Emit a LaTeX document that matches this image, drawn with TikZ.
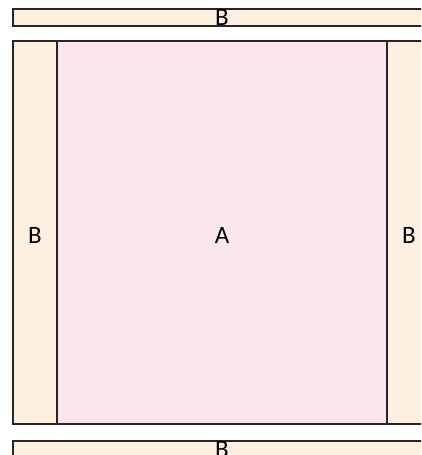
\documentclass[tikz,border=0pt]{standalone}
\usepackage{fontspec}
\setmainfont{Carlito}
\usepackage{xcolor}
\usetikzlibrary{positioning}
\definecolor{beige}{HTML}{FDF0E1}
\definecolor{rosa}{HTML}{FBE5EF}

\begin{document}
\begin{tikzpicture}[x=1pt, y=-1pt,
    region/.style={draw=black!85, line width=1.2pt, inner sep=0pt, outer sep=0pt, font=\fontsize{25}{30}\selectfont},
    bstrip/.style={region, fill=beige},
    astrip/.style={region, fill=rosa}]

    % --- Page ---
    \useasboundingbox (0,0) rectangle (421,455);
    \clip (0,0) rectangle (421,455);

    % --- Top bar ---
    \node[bstrip, minimum width=418pt, minimum height=17pt] (top) at (222,17.5) {B};

    % --- Middle row ---
    \node[astrip, minimum width=330pt, minimum height=383pt, text height=21pt] (mid) at (222,232.5) {A};
    \node[bstrip, minimum width=44pt, minimum height=383pt, text height=21pt, left=0pt of mid] (left) {B};
    \node[bstrip, minimum width=44pt, minimum height=383pt, text height=21pt, right=0pt of mid] (right) {B};

    % --- Bottom bar ---
    \node[bstrip, minimum width=418pt, minimum height=17pt] (bottom) at (222,449.5) {B};

\end{tikzpicture}
\end{document}
